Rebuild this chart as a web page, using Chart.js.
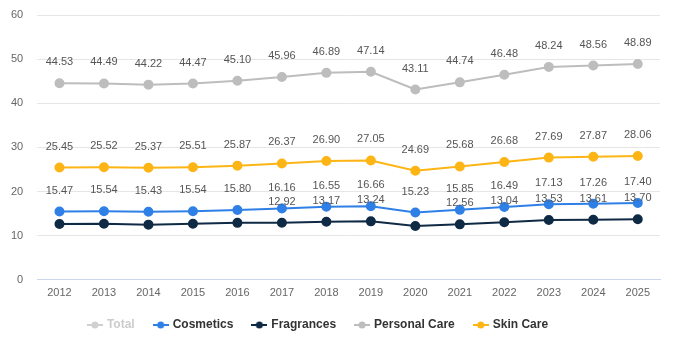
<!DOCTYPE html>
<html>
<head>
<meta charset="utf-8">
<script src="https://cdn.jsdelivr.net/npm/chart.js@4"></script>
<style>
  html, body { margin: 0; padding: 0; background: #fff; }
  #wrap { width: 682px; height: 344px; }
</style>
</head>
<body>
<div id="wrap"><canvas id="salesChart"></canvas></div>
<script>
const years = ["2012", "2013", "2014", "2015", "2016", "2017", "2018", "2019", "2020", "2021", "2022", "2023", "2024", "2025"];
const personalCare = [44.53, 44.49, 44.22, 44.47, 45.10, 45.96, 46.89, 47.14, 43.11, 44.74, 46.48, 48.24, 48.56, 48.89];
const skinCare = [25.45, 25.52, 25.37, 25.51, 25.87, 26.37, 26.90, 27.05, 24.69, 25.68, 26.68, 27.69, 27.87, 28.06];
const cosmetics = [15.47, 15.54, 15.43, 15.54, 15.80, 16.16, 16.55, 16.66, 15.23, 15.85, 16.49, 17.13, 17.26, 17.40];
const fragrances = [12.65, 12.70, 12.50, 12.70, 12.90, 12.92, 13.17, 13.24, 12.20, 12.56, 13.04, 13.53, 13.61, 13.70];
const fragranceLabelShown = [false, false, false, false, false, true, true, true, false, true, true, true, true, true];
const total = [98.10, 98.25, 97.52, 98.22, 99.67, 101.41, 103.51, 104.09, 95.23, 98.83, 102.69, 106.59, 107.30, 108.05];

const FONT = "'Liberation Sans', Arial, sans-serif";

// legend marker: short line with a dot in the middle
function marker(color) {
  const c = document.createElement("canvas");
  c.width = 16;
  c.height = 8;
  const g = c.getContext("2d");
  g.strokeStyle = color;
  g.lineWidth = 2;
  g.beginPath();
  g.moveTo(0, 4);
  g.lineTo(16, 4);
  g.stroke();
  g.fillStyle = color;
  g.beginPath();
  g.arc(8, 4, 3.5, 0, Math.PI * 2);
  g.fill();
  return c;
}

// draws the value above each point
const valueLabels = {
  id: "valueLabels",
  afterDatasetsDraw(chart) {
    const ctx = chart.ctx;
    ctx.save();
    ctx.font = "11px " + FONT;
    ctx.fillStyle = "#555";
    ctx.textAlign = "center";
    ctx.textBaseline = "middle";
    chart.data.datasets.forEach((ds, i) => {
      if (!chart.isDatasetVisible(i)) return;
      const meta = chart.getDatasetMeta(i);
      meta.data.forEach((pt, j) => {
        if (ds.showLabel && !ds.showLabel[j]) return;
        ctx.fillText(ds.data[j].toFixed(2), pt.x, pt.y - 21);
      });
    });
    ctx.restore();
  },
};

// legend takes less room so the plot gets taller, then gets moved back up
const SQUEEZE = 9;
const legendSqueeze = {
  id: "legendSqueeze",
  beforeInit(chart) {
    const fit = chart.legend.fit;
    chart.legend.fit = function () {
      fit.call(this);
      this.height -= SQUEEZE;
    };
  },
  afterLayout(chart) {
    const lg = chart.legend;
    lg.top -= SQUEEZE - 1;
    lg.bottom -= SQUEEZE - 1;
    lg.left -= 10;
    lg.right -= 10;
  },
};

function series(label, data, color) {
  return {
    label: label,
    data: data,
    borderColor: color,
    backgroundColor: color,
    borderWidth: 2,
    pointRadius: 4,
    pointHoverRadius: 4,
    tension: 0,
    pointStyle: "circle",
  };
}

const totalSet = series("Total", total, "#cccccc");
totalSet.hidden = true;
const fragSet = series("Fragrances", fragrances, "#0f2a44");
fragSet.showLabel = fragranceLabelShown;

const legendColors = ["#d0d0d0", "#2f80e6", "#0f2a44", "#bdbdbd", "#fdb515"];

new Chart(document.getElementById("salesChart").getContext("2d"), {
  type: "line",
  data: {
    labels: years,
    datasets: [
      totalSet,
      series("Cosmetics", cosmetics, "#2f80e6"),
      fragSet,
      series("Personal Care", personalCare, "#bdbdbd"),
      series("Skin Care", skinCare, "#fdb515"),
    ],
  },
  options: {
    responsive: true,
    maintainAspectRatio: false,
    animation: false,
    layout: { padding: { top: 15, right: 22, left: -3, bottom: 4 } },
    scales: {
      x: {
        offset: true,
        grid: { display: false, drawTicks: false },
        border: { color: "#ccd6eb" },
        ticks: { color: "#666", font: { size: 11, family: FONT }, padding: 7 },
      },
      y: {
        min: 0,
        max: 60,
        ticks: { stepSize: 10, color: "#666", padding: 14, font: { size: 11, family: FONT } },
        grid: { color: "#e6e6e6", drawTicks: false },
        border: { display: false },
        afterFit(scale) {
          scale.paddingTop = 7;
          scale.paddingBottom = 7;
        },
      },
    },
    plugins: {
      tooltip: { enabled: false },
      legend: {
        position: "bottom",
        labels: {
          usePointStyle: true,
          boxHeight: 8,
          padding: 20,
          font: { size: 12, weight: "bold", family: FONT },
          generateLabels(chart) {
            return chart.data.datasets.map((ds, i) => ({
              text: ds.label,
              pointStyle: marker(legendColors[i]),
              fontColor: i === 0 ? "#cccccc" : "#333",
              hidden: false,
              datasetIndex: i,
              lineWidth: 0,
            }));
          },
        },
      },
    },
  },
  plugins: [valueLabels, legendSqueeze],
});
</script>
</body>
</html>
